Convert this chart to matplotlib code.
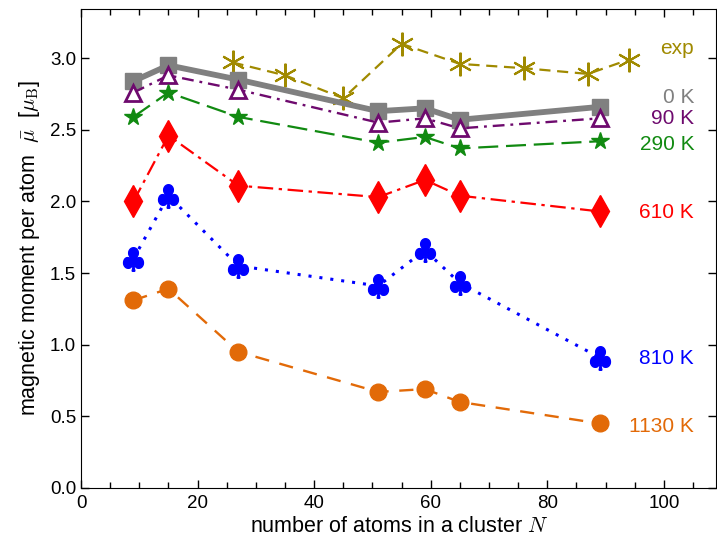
import matplotlib
matplotlib.use("Agg")
import matplotlib.pyplot as plt
from matplotlib.ticker import MultipleLocator

plt.rcParams['font.family'] = ['Liberation Sans', 'DejaVu Sans']
plt.rcParams['mathtext.fontset'] = 'cm'

N_calc = [9, 15, 27, 51, 59, 65, 89]
mu_0K = [2.84, 2.95, 2.85, 2.63, 2.65, 2.57, 2.66]
mu_90K = [2.76, 2.88, 2.78, 2.55, 2.58, 2.51, 2.58]
mu_290K = [2.59, 2.76, 2.59, 2.41, 2.45, 2.37, 2.42]
mu_610K = [2.00, 2.46, 2.11, 2.03, 2.15, 2.04, 1.93]
mu_810K = [1.60, 2.04, 1.55, 1.41, 1.66, 1.43, 0.91]
mu_1130K = [1.31, 1.39, 0.95, 0.67, 0.69, 0.60, 0.45]

N_exp = [26, 35, 45, 55, 65, 76, 87, 94]
mu_exp = [2.97, 2.88, 2.72, 3.10, 2.96, 2.93, 2.89, 2.99]

labels = ["exp", "0 K", "90 K", "290 K", "610 K", "810 K", "1130 K"]
label_y = [3.07, 2.725, 2.58, 2.395, 1.92, 0.90, 0.43]

c_exp = '#a08a00'
c_0 = '#808080'
c_90 = '#6e0a6e'
c_290 = '#118a11'
c_610 = '#ff0000'
c_810 = '#0000ff'
c_1130 = '#e26a08'

fig = plt.figure(figsize=(7.17, 5.47), dpi=100)
ax = fig.add_axes([0.113, 0.108, 0.886, 0.8755])

ax.plot(N_exp, mu_exp, color=c_exp, ls=(0, (5, 3)), lw=1.6, marker=(6, 2, 0), ms=17, mew=1.5)
ax.plot(N_calc, mu_0K, color=c_0, ls='-', lw=4.2, marker='s', ms=12)
ax.plot(N_calc, mu_90K, color=c_90, ls=(0, (5, 2.5, 1.2, 2.5)), lw=1.7, marker='^', ms=12,
        mfc='white', mec=c_90, mew=2)
ax.plot(N_calc, mu_290K, color=c_290, ls=(0, (9, 3.5)), lw=1.6, marker='*', ms=13)
ax.plot(N_calc, mu_610K, color=c_610, ls=(0, (7, 2.5, 1.5, 2.5)), lw=1.6, marker='d', ms=16)
ax.plot(N_calc, mu_810K, color=c_810, ls=(0, (1, 2.6)), lw=2.2, marker=r'$\clubsuit$', ms=17)
ax.plot(N_calc, mu_1130K, color=c_1130, ls=(0, (6, 4.5)), lw=1.7, marker='o', ms=12)

colors = [c_exp, c_0, c_90, c_290, c_610, c_810, c_1130]
for lab, yv, c in zip(labels, label_y, colors):
    ax.text(105.2, yv, lab, color=c, fontsize=15, ha='right', va='center')

ax.set_xlim(0, 109)
ax.set_ylim(0, 3.343)
ax.xaxis.set_major_locator(MultipleLocator(20))
ax.xaxis.set_minor_locator(MultipleLocator(5))
ax.yaxis.set_major_locator(MultipleLocator(0.5))
ax.yaxis.set_major_formatter(matplotlib.ticker.FormatStrFormatter('%.1f'))
ax.tick_params(which='both', direction='in', top=True, right=True, labelsize=13.5)
ax.tick_params(which='major', length=6, width=1)
ax.tick_params(which='minor', length=4, width=1)
ax.tick_params(axis='x', pad=5)

ax.set_xlabel(r"number of atoms in a cluster $N$", fontsize=15.5, labelpad=3)
ax.set_ylabel(r"magnetic moment per atom  $\bar{\mu}$  [$\mu_\mathrm{B}$]", fontsize=15.5, labelpad=6)

fig.savefig("out.png", dpi=100)
